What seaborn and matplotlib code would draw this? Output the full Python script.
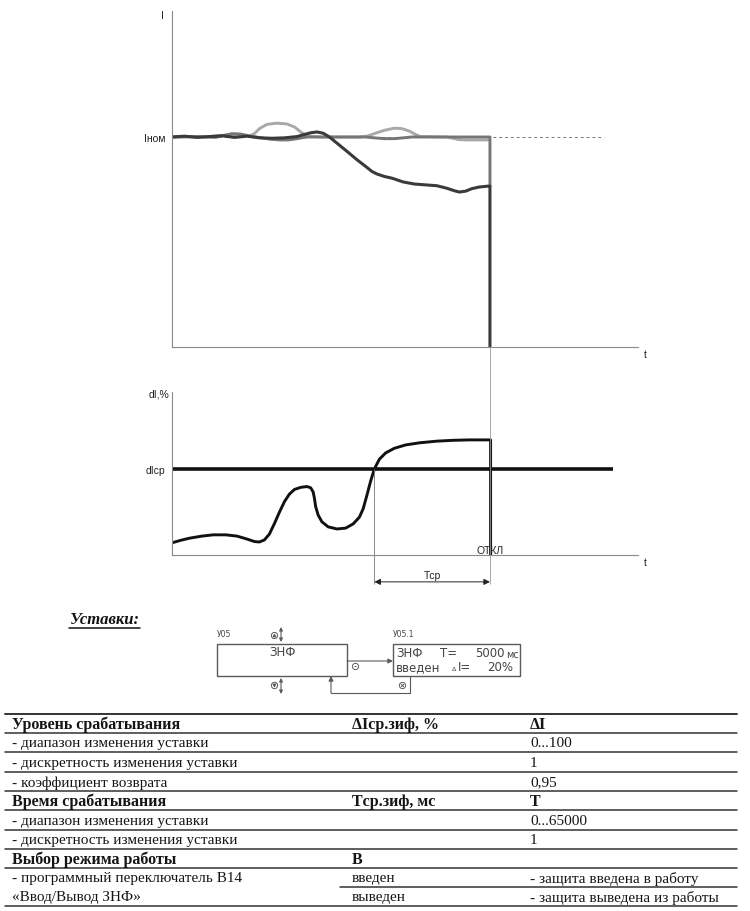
import matplotlib
matplotlib.use("Agg")
import matplotlib.pyplot as plt
from matplotlib.patches import Rectangle
import seaborn as sns
import pandas as pd

# --- upper chart: current I(t), units of grid step ---
I_NOM = 5.0
TRIP_T = 2.545
DASH_END = 3.46

dark_t = [0.0, 0.1, 0.2, 0.3, 0.4, 0.5, 0.6, 0.7, 0.8, 0.9, 1.0, 1.06, 1.11, 1.16, 1.21, 1.26,
          1.33, 1.4, 1.48, 1.55, 1.6, 1.64, 1.7, 1.76, 1.85, 1.94, 2.03, 2.12, 2.2, 2.26, 2.3,
          2.35, 2.4, 2.46, 2.53, TRIP_T, TRIP_T]
dark_i = [5.0, 5.02, 4.99, 5.01, 5.03, 4.99, 5.02, 4.98, 4.97, 4.98, 5.01, 5.06, 5.1, 5.12, 5.09, 5.0,
          4.83, 4.66, 4.46, 4.3, 4.18, 4.12, 4.06, 4.02, 3.93, 3.88, 3.86, 3.84, 3.78, 3.72, 3.69,
          3.71, 3.77, 3.81, 3.83, 3.83, 0.0]

light_t = [0.0, 0.3, 0.45, 0.55, 0.62, 0.66, 0.7, 0.76, 0.84, 0.92, 0.98, 1.03, 1.08, 1.2,
           1.5, 1.56, 1.62, 1.7, 1.78, 1.84, 1.9, 1.95, 1.99, 2.2, 2.25, 2.29, 2.35, 2.45, 2.53]
light_i = [5.0, 5.01, 5.05, 5.06, 5.03, 5.08, 5.2, 5.3, 5.33, 5.31, 5.24, 5.12, 5.02, 5.0,
           5.0, 5.02, 5.08, 5.16, 5.21, 5.2, 5.14, 5.06, 5.01, 5.0, 4.97, 4.94, 4.93, 4.93, 4.93]

mid_t = [0.0, 0.2, 0.35, 0.42, 0.48, 0.55, 0.62, 0.7, 0.78, 0.86, 0.93, 1.0, 1.08, 1.2,
         1.55, 1.62, 1.7, 1.78, 1.85, 1.92, 2.2, TRIP_T, TRIP_T]
mid_i = [5.0, 5.01, 4.99, 5.04, 5.08, 5.07, 5.02, 4.99, 4.95, 4.93, 4.93, 4.96, 5.0, 5.0,
         5.0, 4.98, 4.96, 4.96, 4.98, 5.0, 5.0, 5.0, 3.83]

# --- lower chart: dI, % ---
DI_SET = 2.05
SET_END = 3.53
TSR_START = 1.62

di_t = [0.0, 0.07, 0.14, 0.24, 0.33, 0.43, 0.52, 0.6, 0.66, 0.7, 0.74, 0.78, 0.82, 0.86,
        0.9, 0.94, 0.98, 1.03, 1.08, 1.11, 1.13, 1.14, 1.15, 1.17, 1.2, 1.25, 1.32, 1.39,
        1.45, 1.5, 1.53, 1.56, 1.59, 1.62, 1.66, 1.71, 1.78, 1.87, 1.98, 2.12, 2.25, 2.38,
        2.5, 2.55, 2.55]
di_v = [0.29, 0.35, 0.4, 0.45, 0.48, 0.48, 0.45, 0.38, 0.32, 0.31, 0.36, 0.5, 0.75, 1.02,
        1.27, 1.45, 1.56, 1.61, 1.63, 1.6, 1.5, 1.35, 1.15, 0.95, 0.79, 0.67, 0.62, 0.64,
        0.74, 0.9, 1.1, 1.42, 1.76, 2.05, 2.28, 2.43, 2.54, 2.62, 2.67, 2.71, 2.73, 2.74,
        2.74, 2.74, -0.03]

# --- settings table ---
col_name = ["Уровень срабатывания", "- диапазон изменения уставки",
            "- дискретность изменения уставки", "- коэффициент возврата",
            "Время срабатывания", "- диапазон изменения уставки",
            "- дискретность изменения уставки", "Выбор режима работы",
            "- программный переключатель В14", "«Ввод/Вывод ЗНФ»"]
col_param = ["ΔIср.зиф, %", "", "", "", "Tср.зиф, мс", "", "", "В", "введен", "выведен"]
col_value = ["ΔI", "0...100", "1", "0,95", "T", "0...65000", "1", "",
             "- защита введена в работу", "- защита выведена из работы"]
row_bold = [True, False, False, False, True, False, False, True, False, False]

sns.set_style("white")
plt.rcParams["font.family"] = ["Liberation Sans", "DejaVu Sans"]

W, H = 750, 912
fig = plt.figure(figsize=(7.5, 9.12), dpi=100)


def box(l, t, r, b):
    return [l / W, 1 - b / H, (r - l) / W, (b - t) / H]


AX_GRAY = "#8a8a8a"


def style_axes(ax):
    for s in ["top", "right"]:
        ax.spines[s].set_visible(False)
    for s in ["left", "bottom"]:
        ax.spines[s].set_color(AX_GRAY)
        ax.spines[s].set_linewidth(0.8)
    ax.tick_params(direction="inout", length=5, width=0.7, color=AX_GRAY,
                   labelsize=7.5, labelcolor="#222222", pad=2)
    ax.set_xlabel("")
    ax.set_ylabel("")


# upper chart
ax1 = fig.add_axes(box(172, 12, 638, 348))
ax1.set_facecolor("none")
ax1.hlines(I_NOM, 0, DASH_END, colors="#777777", lw=0.7, linestyles=(0, (3, 3)))
df_mid = pd.DataFrame({"t": mid_t, "i": mid_i})
df_light = pd.DataFrame({"t": light_t, "i": light_i})
df_dark = pd.DataFrame({"t": dark_t, "i": dark_i})
sns.lineplot(data=df_light, x="t", y="i", sort=False, estimator=None,
             color="#a9a9a9", lw=2.1, ax=ax1)
sns.lineplot(data=df_mid, x="t", y="i", sort=False, estimator=None,
             color="#767676", lw=2.1, ax=ax1)
sns.lineplot(data=df_dark, x="t", y="i", sort=False, estimator=None,
             color="#3a3a3a", lw=2.2, ax=ax1)
ax1.set_xlim(0, 3.73)
ax1.set_ylim(0, 8)
ax1.set_xticks([1, 2, 3])
ax1.set_xticklabels([])
ax1.set_yticks([1, 2, 3, 4, 5, 6, 7])
ax1.set_yticklabels(["", "", "", "", "Iном", "", ""])
style_axes(ax1)

# lower chart
ax2 = fig.add_axes(box(172, 393, 638, 556))
ax2.set_facecolor("none")
ax2.hlines(DI_SET, 0, SET_END, colors="#111111", lw=2.6)
df_di = pd.DataFrame({"t": di_t, "v": di_v})
sns.lineplot(data=df_di, x="t", y="v", sort=False, estimator=None,
             color="#111111", lw=2.1, ax=ax2)
ax2.set_xlim(0, 3.73)
ax2.set_ylim(0, 3.88)
ax2.set_xticks([1])
ax2.set_xticklabels([])
ax2.set_yticks([1, DI_SET])
ax2.set_yticklabels(["", "dIср"])
style_axes(ax2)
ax2.yaxis.get_major_ticks()[1].tick1line.set_visible(False)

# Tcp dimension lines
ax2.vlines(TSR_START, -0.7, DI_SET, colors="#777777", lw=0.6, clip_on=False)
ax2.vlines(TRIP_T, -0.7, 4.95, colors="#999999", lw=0.6, clip_on=False)
ax2.annotate("", xy=(TSR_START, -0.64), xytext=(TRIP_T, -0.64), annotation_clip=False,
             arrowprops=dict(arrowstyle="<|-|>", color="#222222", lw=0.7,
                             mutation_scale=9, shrinkA=0, shrinkB=0))
ax2.text((TSR_START + TRIP_T) / 2, -0.6, "Tср", ha="center", va="bottom",
         fontsize=7.5, color="#222222", clip_on=False)
ax2.text(TRIP_T, 0.12, "ОТКЛ", ha="center", va="center", fontsize=7.5, color="#222222")

# overlay in pixel coordinates for labels, diagram and table
ov = fig.add_axes([0, 0, 1, 1])
ov.set_xlim(0, W)
ov.set_ylim(H, 0)
ov.axis("off")
ov.patch.set_visible(False)

lab = dict(fontsize=7.5, color="#222222")
ov.text(162, 16, "I", ha="center", va="center", **lab)
ov.text(645, 355, "t", ha="center", va="center", **lab)
ov.text(159, 395, "dI,%", ha="center", va="center", **lab)
ov.text(645, 563, "t", ha="center", va="center", **lab)

# "Уставки:"
ov.text(70, 620, "Уставки:", family=["Liberation Serif", "DejaVu Serif"], fontsize=12,
        fontweight="bold", style="italic", ha="left", va="center", color="#111111")
ov.plot([69, 140], [628.5, 628.5], color="#111111", lw=1.1)

# diagram
dg = "#5a5a5a"
ov.add_patch(Rectangle((217, 645), 130, 32, fill=False, ec=dg, lw=1.0))
ov.add_patch(Rectangle((393, 645), 127, 32, fill=False, ec=dg, lw=1.0))
dtxt = dict(color="#444444", family=["DejaVu Sans"])
ov.text(217, 635, "У05", fontsize=5.5, ha="left", va="center", **dtxt)
ov.text(393, 635, "У05.1", fontsize=5.5, ha="left", va="center", **dtxt)
ov.text(282, 653, "ЗНФ", fontsize=8.5, ha="center", va="center", **dtxt)
ov.text(396, 654, "ЗНФ", fontsize=8.5, ha="left", va="center", **dtxt)
ov.text(440, 654, "T=", fontsize=8.5, ha="left", va="center", **dtxt)
ov.text(505, 654, "5000", fontsize=8.5, ha="right", va="center", **dtxt)
ov.text(506, 655, "мс", fontsize=7, ha="left", va="center", **dtxt)
ov.text(396, 668, "введен", fontsize=8.5, ha="left", va="center", **dtxt)
ov.text(452, 670, "Δ", fontsize=4.5, ha="left", va="center", **dtxt)
ov.text(458, 668, "I=", fontsize=8.5, ha="left", va="center", **dtxt)
ov.text(513, 668, "20%", fontsize=8.5, ha="right", va="center", **dtxt)

arr = dict(arrowstyle="-|>", color=dg, lw=0.8, mutation_scale=7, shrinkA=0, shrinkB=0)
ov.annotate("", xy=(393, 662), xytext=(347, 662), arrowprops=arr)
ov.plot([410, 410, 331], [677, 694, 694], color=dg, lw=0.8)
ov.annotate("", xy=(331, 677), xytext=(331, 694), arrowprops=arr)
ud = dict(arrowstyle="<|-|>", color=dg, lw=0.8, mutation_scale=5, shrinkA=0, shrinkB=0)
ov.annotate("", xy=(281, 628), xytext=(281, 643), arrowprops=ud)
ov.annotate("", xy=(281, 679), xytext=(281, 695), arrowprops=ud)
for (cx, cy, mk) in [(274, 636, "^"), (274, 686, "v"), (355, 667, "_"), (402, 686, "x")]:
    ov.plot(cx, cy, marker="o", ms=4.5, mfc="white", mec=dg, mew=0.7)
    ov.plot(cx, cy, marker=mk, ms=2.0, color=dg, mew=0.7)

# table
serif = ["Liberation Serif", "DejaVu Serif"]
lines_y = [715, 734, 753, 773, 792, 811, 831, 850, 869, 888, 907]
for k, y in enumerate(lines_y):
    x0 = 340 if k == 9 else 5
    ov.plot([x0, 737], [y, y], color="#333333", lw=1.1 if k else 1.4)
for k in range(len(col_name)):
    yc = (lines_y[k] + lines_y[k + 1]) / 2 + 0.5
    fw = "bold" if row_bold[k] else "normal"
    fs = 11.5 if row_bold[k] else 11
    for x, txt in [(12, col_name[k]), (352, col_param[k]), (530, col_value[k])]:
        ov.text(x, yc, txt, family=serif, fontsize=fs, fontweight=fw,
                ha="left", va="center", color="#151515")

fig.savefig("out.png", dpi=100)
